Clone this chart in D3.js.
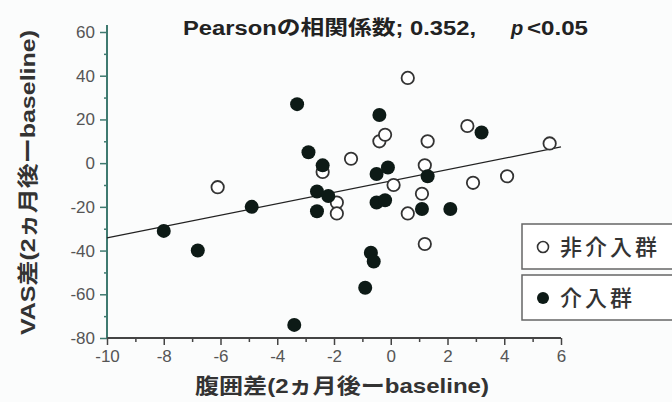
<!DOCTYPE html>
<html>
<head>
<meta charset="utf-8">
<script src="https://cdn.jsdelivr.net/npm/d3@7"></script>
<style>
  html, body { margin: 0; padding: 0; background: #fbfcfc; }
  svg { display: block; }
  text { font-family: "Liberation Sans", Arial, "Noto Sans CJK JP", sans-serif; }
</style>
</head>
<body>
<div id="chart"></div>
<script>
// 非介入群 (open circles): [腹囲差, VAS差]
const nonIntervention = [
    [-6.1, -11], [-2.4, -4], [-1.4, 2], [-1.9, -18], [-1.9, -23],
    [-0.4, 10], [-0.2, 13], [0.6, 39], [0.1, -10], [0.6, -23],
    [1.2, -1], [1.1, -14], [1.3, 10], [1.2, -37], [2.7, 17],
    [2.9, -9], [4.1, -6], [5.6, 9]
];
// 介入群 (filled circles)
const intervention = [
    [-8.0, -31], [-6.8, -40], [-4.9, -20], [-3.3, 27], [-3.4, -74],
    [-2.9, 5], [-2.4, -1], [-2.6, -13], [-2.2, -15], [-2.6, -22],
    [-0.4, 22], [-0.5, -5], [-0.1, -2], [-0.5, -18], [-0.2, -17],
    [-0.7, -41], [-0.6, -45], [-0.9, -57], [1.3, -6], [1.1, -21],
    [2.1, -21], [3.2, 14]
];
// 回帰直線 y = a + b x
const fitLine = { intercept: -8.2, slope: 2.6 };
const xTicks = [-10, -8, -6, -4, -2, 0, 2, 4, 6];
const yTicks = [-80, -60, -40, -20, 0, 20, 40, 60];
const legendLabels = ["非介入群", "介入群"];

const width = 672, height = 402;

const svg = d3.select("#chart")
    .append("svg")
    .attr("width", width)
    .attr("height", height);

const x = d3.scaleLinear().domain([-10, 6]).range([107, 561]);
const y = d3.scaleLinear().domain([-80, 60]).range([338, 32]);

// 軸 (y) — teal-ish line
const yAxis = svg.append("g")
    .attr("transform", `translate(${x(-10)},0)`)
    .call(d3.axisLeft(y).tickValues(yTicks).tickSize(7).tickPadding(5).tickFormat(d => String(d)))
    .call(g => g.select(".domain").remove());
yAxis.selectAll("line").attr("stroke", "#3f7a70").attr("stroke-width", 1.5);
yAxis.selectAll("text")
    .attr("font-size", 17)
    .attr("fill", "#555")
    .attr("font-family", "Liberation Sans, Arial, sans-serif");

svg.append("g")
    .attr("transform", `translate(${x(-10)},0)`)
    .call(d3.axisLeft(y).tickValues(d3.range(-70, 60, 20)).tickSize(3).tickFormat(""))
    .call(g => g.select(".domain").remove())
    .selectAll("line").attr("stroke", "#3f7a70").attr("stroke-width", 1.5);

svg.append("line")
    .attr("x1", x(-10)).attr("x2", x(-10))
    .attr("y1", y(60) - 7).attr("y2", y(-80))
    .attr("stroke", "#3f7a70").attr("stroke-width", 2);

// 軸 (x)
const xAxis = svg.append("g")
    .attr("transform", `translate(0,${y(-80)})`)
    .call(d3.axisBottom(x).tickValues(xTicks).tickSize(7).tickPadding(5).tickFormat(d => String(d)))
    .call(g => g.select(".domain").remove());
xAxis.selectAll("line").attr("stroke", "#444").attr("stroke-width", 1.5);
xAxis.selectAll("text")
    .attr("font-size", 17)
    .attr("fill", "#555")
    .attr("font-family", "Liberation Sans, Arial, sans-serif");

svg.append("g")
    .attr("transform", `translate(0,${y(-80)})`)
    .call(d3.axisBottom(x).tickValues(d3.range(-9, 6, 2)).tickSize(4).tickFormat(""))
    .call(g => g.select(".domain").remove())
    .selectAll("line").attr("stroke", "#444").attr("stroke-width", 1.5);

svg.append("line")
    .attr("x1", x(-10)).attr("x2", x(6))
    .attr("y1", y(-80)).attr("y2", y(-80))
    .attr("stroke", "#444").attr("stroke-width", 2);

// 回帰直線
svg.append("line")
    .attr("x1", x(-10)).attr("y1", y(fitLine.intercept + fitLine.slope * -10))
    .attr("x2", x(6)).attr("y2", y(fitLine.intercept + fitLine.slope * 6))
    .attr("stroke", "#222").attr("stroke-width", 1.3);

// 点
svg.append("g")
    .selectAll("circle")
    .data(nonIntervention)
    .enter()
    .append("circle")
    .attr("cx", d => x(d[0]))
    .attr("cy", d => y(d[1]))
    .attr("r", 6.2)
    .attr("fill", "#fff")
    .attr("stroke", "#333")
    .attr("stroke-width", 1.8);

svg.append("g")
    .selectAll("circle")
    .data(intervention)
    .enter()
    .append("circle")
    .attr("cx", d => x(d[0]))
    .attr("cy", d => y(d[1]))
    .attr("r", 7)
    .attr("fill", "#0d1a16");

// タイトル
const titleG = svg.append("g")
    .attr("font-size", 20)
    .attr("font-weight", "bold")
    .attr("fill", "#222");
titleG.append("text")
    .attr("x", 183).attr("y", 35)
    .attr("textLength", 293)
    .attr("lengthAdjust", "spacingAndGlyphs")
    .text("Pearsonの相関係数; 0.352,");
titleG.append("text")
    .attr("x", 511).attr("y", 35)
    .attr("font-style", "italic")
    .text("p");
titleG.append("text")
    .attr("x", 527).attr("y", 35)
    .attr("textLength", 61)
    .attr("lengthAdjust", "spacingAndGlyphs")
    .text("<0.05");

// 軸ラベル
svg.append("text")
    .attr("transform", `translate(35,${(30 + 335) / 2}) rotate(-90)`)
    .attr("text-anchor", "middle")
    .attr("font-size", 21)
    .attr("font-weight", "bold")
    .attr("fill", "#333")
    .attr("textLength", 305)
    .attr("lengthAdjust", "spacingAndGlyphs")
    .text("VAS差(2ヵ月後ーbaseline)");

svg.append("text")
    .attr("x", 342)
    .attr("y", 393)
    .attr("text-anchor", "middle")
    .attr("font-size", 21)
    .attr("font-weight", "bold")
    .attr("fill", "#333")
    .attr("textLength", 294)
    .attr("lengthAdjust", "spacingAndGlyphs")
    .text("腹囲差(2ヵ月後ーbaseline)");

// 凡例
const legend = svg.append("g");
legendLabels.forEach((label, i) => {
    const top = 224 + i * 51;
    legend.append("rect")
        .attr("x", 522).attr("y", top)
        .attr("width", 160).attr("height", 45)
        .attr("fill", "#fff")
        .attr("stroke", "#666")
        .attr("stroke-width", 1.5);
    legend.append("circle")
        .attr("cx", 543).attr("cy", top + 23)
        .attr("r", i === 0 ? 5.5 : 6)
        .attr("fill", i === 0 ? "#fff" : "#0d1a16")
        .attr("stroke", i === 0 ? "#333" : "none")
        .attr("stroke-width", 1.6);
    legend.append("text")
        .attr("x", 560).attr("y", top + 31)
        .attr("font-size", 22)
        .attr("font-weight", 500)
        .attr("letter-spacing", 3)
        .attr("fill", "#333")
        .attr("font-family", "Noto Sans CJK JP, sans-serif")
        .text(label);
});
</script>
</body>
</html>
